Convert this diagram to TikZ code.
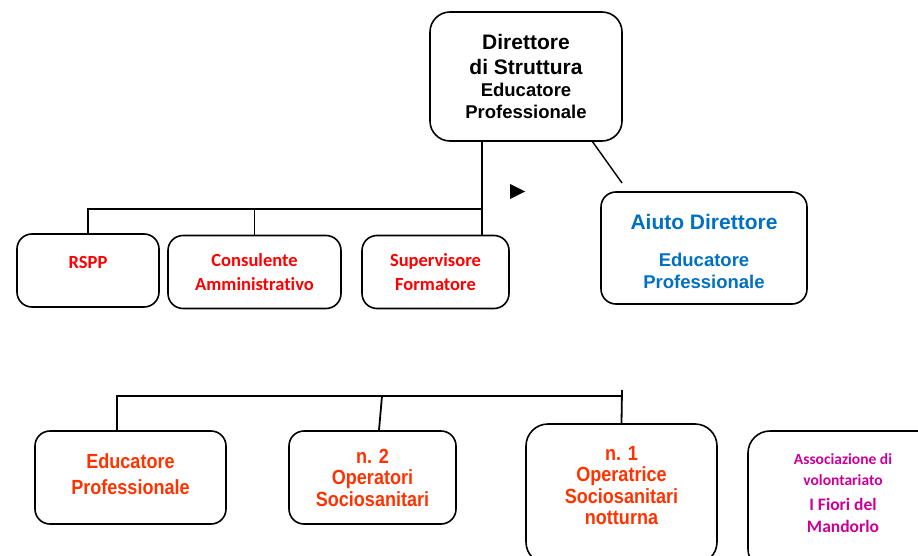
\documentclass[tikz,border=0pt]{standalone}
\usepackage{fontspec}
\setmainfont{Liberation Sans}
\newfontfamily\calibri[Ligatures=NoCommon]{Carlito}
\newfontfamily\narrow[FakeStretch=0.88]{Liberation Sans}
\usetikzlibrary{positioning}

\definecolor{staffred}{RGB}{255,0,0}
\definecolor{crewred}{RGB}{255,51,0}
\definecolor{helpblue}{RGB}{0,112,192}
\definecolor{friendpink}{RGB}{204,0,153}

\newcommand{\headbig}{\fontsize{21}{22}\selectfont}
\newcommand{\headsmall}{\fontsize{18.5}{22}\selectfont}
\newcommand{\assosmall}{\fontsize{15.5}{21}\selectfont}
\newcommand{\assobig}{\fontsize{17.5}{21}\selectfont}

\tikzset{
  unit/.style={draw, line width=1.6pt, rounded corners=15pt, align=center, inner sep=0pt},
  link/.style={line width=1.8pt},
  staff/.style={text=staffred, font=\calibri\bfseries\fontsize{18.5}{24}\selectfont},
  crew/.style={text=crewred, font=\narrow\bfseries\fontsize{20.5}{21.5}\selectfont},
}

\begin{document}
\begin{tikzpicture}[x=1pt, y=-1pt]
  \useasboundingbox (0,0) rectangle (918,556);

  % direzione
  \node[unit, rounded corners=20pt, minimum width=192pt, minimum height=129pt, font=\bfseries\headbig] (dir) at (526,76.5)
    {\headbig Direttore\\[3pt] \headbig di Struttura\\ \headsmall Educatore\\ \headsmall Professionale};
  \node[unit, minimum width=206pt, minimum height=112pt] (aiuto) at (704,248) {};
  \node[align=center, text=helpblue, font=\bfseries\fontsize{21}{21.5}\selectfont] (aiutotxt) at (704,251)
    {\headbig Aiuto Direttore\\[16pt] \headsmall Educatore\\ \headsmall Professionale};

  % consulenti
  \node[unit, staff, minimum width=142pt, minimum height=73pt] (rspp) at (88,270.5) {RSPP\\[-8pt] \mbox{}};
  \node[unit, staff, minimum width=173pt, minimum height=73pt] (cons) at (254.5,272) {Consulente\\ Amministrativo};
  \node[unit, staff, minimum width=147pt, minimum height=73pt] (sup) at (435.5,272) {Supervisore\\ Formatore};

  \coordinate (hub) at (482,209);
  \coordinate (dirfoot) at (592,141);
  \coordinate (aiutoend) at (622,183);
  \draw[link] (dir.south -| hub) -- (hub) -- (hub -| rspp.north) -- (rspp.north);
  \draw[link] (cons.north) -- (cons.north |- hub);
  \draw[link] (hub) -- (sup.north -| hub);
  \draw[link, line width=1.4pt] (dirfoot) -- (aiutoend);
  \fill (510,184) -- (525,191.5) -- (510,199) -- cycle;

  % operatori
  \node[unit, crew, minimum width=191pt, minimum height=93pt, font=\narrow\bfseries\fontsize{20.5}{26}\selectfont] (edu) at (130.5,477.5) {Educatore\\ Professionale\\[-20pt]\mbox{}};
  \node[unit, crew, minimum width=167pt, minimum height=93pt] (op2) at (372.5,477.5) {n. 2\\ Operatori\\ Sociosanitari};
  \node[unit, rounded corners=22pt, minimum width=191pt, minimum height=140pt] (op1) at (621.5,494) {};
  \node[crew, align=center] (op1txt) at (621.5,485.5) {n. 1\\ Operatrice\\ Sociosanitari\\ notturna};
  \node[unit, rounded corners=22pt, minimum width=200pt, minimum height=140pt] (asso) at (848,501) {};
  \node[text=friendpink, align=center, font=\calibri\bfseries\assosmall] (assotxt) at (843,493)
    {\assosmall Associazione di\\ \assosmall volontariato\\[4pt] \assobig I Fiori del\\[1pt] \assobig Mandorlo};

  \coordinate (lhub) at (622,396);
  \coordinate (ltop) at (622,390);
  \coordinate (ledu) at (117,396);
  \coordinate (lop2) at (382,396);
  \draw[link] (edu.north -| ledu) -- (ledu) -- (lhub);
  \draw[link] (ltop) -- (op1.north);
  \draw[link] (lop2) -- (op2.north -| 379,0);
\end{tikzpicture}
\end{document}
